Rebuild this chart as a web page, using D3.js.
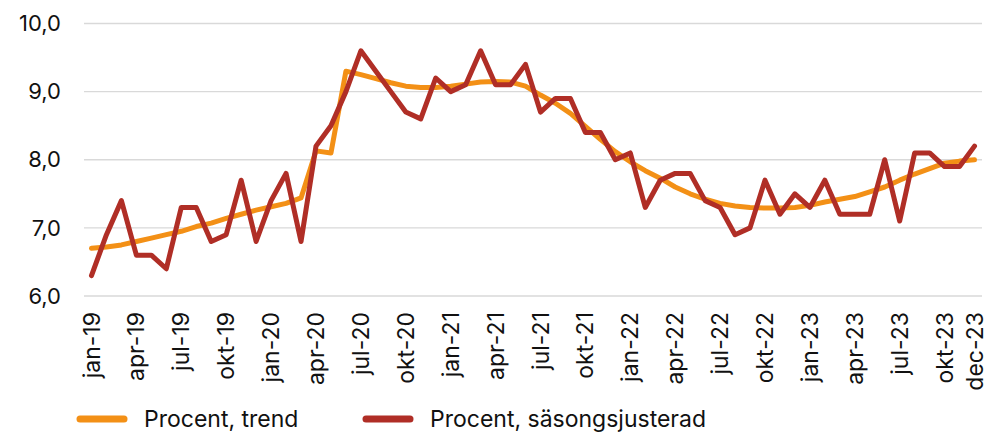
<!DOCTYPE html>
<html>
<head>
<meta charset="utf-8">
<script src="https://cdn.jsdelivr.net/npm/d3@7"></script>
<style>
  body { margin: 0; background: #fff; }
  text { font-family: Inter, "Noto Sans", sans-serif; fill: #111; }
</style>
</head>
<body>
<div id="chart"></div>
<script>
var months = ["jan", "feb", "mar", "apr", "maj", "jun", "jul", "aug", "sep", "okt", "nov", "dec"];
var years = ["19", "20", "21", "22", "23"];
var categories = [];
years.forEach(function(y) {
    months.forEach(function(m) { categories.push(m + "-" + y); });
});

var trend = [6.70, 6.72, 6.75, 6.80, 6.85, 6.90, 6.95, 7.02, 7.07, 7.14, 7.20, 7.26,
             7.31, 7.36, 7.44, 8.13, 8.10, 9.30, 9.25, 9.19, 9.13, 9.08, 9.06, 9.06,
             9.08, 9.11, 9.14, 9.15, 9.14, 9.08, 8.95, 8.83, 8.68, 8.49, 8.30, 8.12,
             7.97, 7.84, 7.73, 7.60, 7.50, 7.42, 7.36, 7.32, 7.30, 7.29, 7.29, 7.30,
             7.33, 7.38, 7.42, 7.46, 7.53, 7.60, 7.70, 7.79, 7.87, 7.95, 7.98, 8.00];
var seasonal = [6.3, 6.9, 7.4, 6.6, 6.6, 6.4, 7.3, 7.3, 6.8, 6.9, 7.7, 6.8,
                7.4, 7.8, 6.8, 8.2, 8.5, 9.0, 9.6, 9.3, 9.0, 8.7, 8.6, 9.2,
                9.0, 9.1, 9.6, 9.1, 9.1, 9.4, 8.7, 8.9, 8.9, 8.4, 8.4, 8.0,
                8.1, 7.3, 7.7, 7.8, 7.8, 7.4, 7.3, 6.9, 7.0, 7.7, 7.2, 7.5,
                7.3, 7.7, 7.2, 7.2, 7.2, 8.0, 7.1, 8.1, 8.1, 7.9, 7.9, 8.2];
var yTicks = [6, 7, 8, 9, 10];
var seriesNames = ["Procent, trend", "Procent, säsongsjusterad"];
var colors = ["#f39016", "#b02e26"];

var width = 992, height = 434;
var plot = { left: 84, right: 982, top: 23.5, bottom: 296 };

var svg = d3.select("#chart").append("svg").attr("width", width).attr("height", height);

var x = d3.scaleBand().domain(categories).range([plot.left, plot.right]);
var y = d3.scaleLinear().domain([6, 10]).range([plot.bottom, plot.top]);
var fmt = function(d) { return d3.format(".1f")(d).replace(".", ","); };

// gridlines
svg.append("g").selectAll("line").data(yTicks).enter().append("line")
    .attr("x1", plot.left).attr("x2", plot.right)
    .attr("y1", function(d) { return y(d); }).attr("y2", function(d) { return y(d); })
    .attr("stroke", "#d9d9d9").attr("stroke-width", 1.3);

// y labels
svg.append("g").selectAll("text").data(yTicks).enter().append("text")
    .attr("x", 61).attr("y", function(d) { return y(d); })
    .attr("dy", "0.35em").attr("text-anchor", "end")
    .style("font-size", "22px")
    .text(fmt);

// x labels: every third month plus the last one
var shown = categories.filter(function(c, i) { return i % 3 === 0 || i === categories.length - 1; });
svg.append("g").selectAll("text").data(shown).enter().append("text")
    .attr("transform", function(d) {
        return "translate(" + (x(d) + x.bandwidth() / 2) + ",312) rotate(-90)";
    })
    .attr("dy", "0.35em").attr("text-anchor", "end")
    .style("font-size", "23px")
    .text(function(d) { return d; });

var line = d3.line()
    .x(function(d, i) { return x(categories[i]) + x.bandwidth() / 2; })
    .y(function(d) { return y(d); });

[trend, seasonal].forEach(function(s, k) {
    svg.append("path").datum(s)
        .attr("d", line)
        .attr("fill", "none")
        .attr("stroke", colors[k])
        .attr("stroke-width", 5)
        .attr("stroke-linejoin", "round")
        .attr("stroke-linecap", "round");
});

// legend
var legendX = [80, 366];
seriesNames.forEach(function(n, k) {
    var g = svg.append("g").attr("transform", "translate(" + legendX[k] + ",419)");
    g.append("line").attr("x1", 0).attr("x2", 44).attr("y1", 0).attr("y2", 0)
        .attr("stroke", colors[k]).attr("stroke-width", 7).attr("stroke-linecap", "round");
    g.append("text").attr("x", 64).attr("y", 0).attr("dy", "0.35em")
        .style("font-size", "23px").text(n);
});
</script>
</body>
</html>
